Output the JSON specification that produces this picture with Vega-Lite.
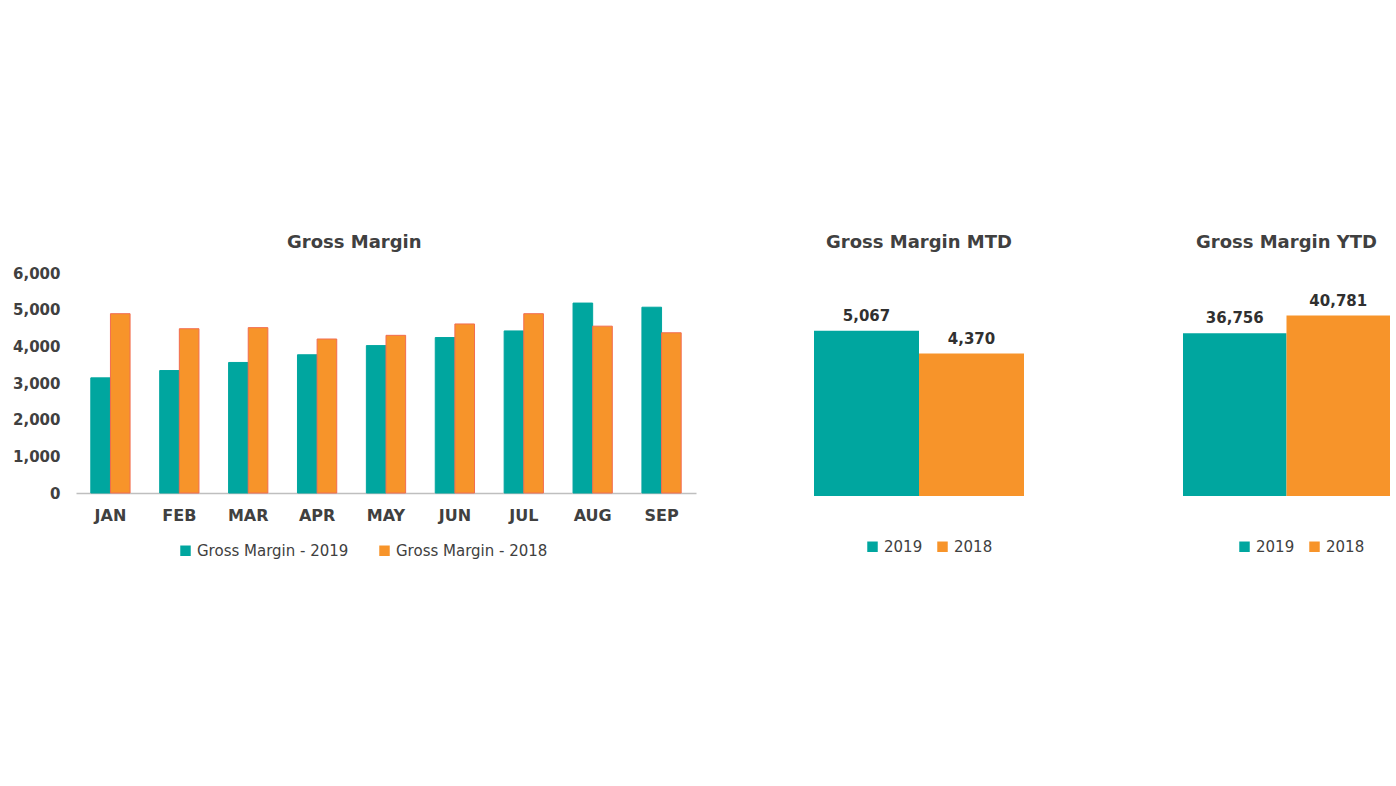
{
  "$schema": "https://vega.github.io/schema/vega-lite/v6.json",
  "background": "white",
  "padding": {"left": 12, "top": 234, "right": 0, "bottom": 0},
  "config": {
    "view": {"stroke": null},
    "font": "DejaVu Sans",
    "title": {"fontSize": 18, "fontWeight": "bold", "color": "#404040", "anchor": "middle"},
    "legend": {"title": null, "labelFontSize": 15, "labelColor": "#404040", "symbolType": "square", "symbolSize": 110, "labelOffset": 4, "direction": "horizontal", "symbolStrokeWidth": 1}
  },
  "datasets": {
    "monthly": [
      {"month": "JAN", "series": "Gross Margin - 2019", "value": 3140},
      {"month": "JAN", "series": "Gross Margin - 2018", "value": 4890},
      {"month": "FEB", "series": "Gross Margin - 2019", "value": 3340},
      {"month": "FEB", "series": "Gross Margin - 2018", "value": 4480},
      {"month": "MAR", "series": "Gross Margin - 2019", "value": 3560},
      {"month": "MAR", "series": "Gross Margin - 2018", "value": 4510},
      {"month": "APR", "series": "Gross Margin - 2019", "value": 3770},
      {"month": "APR", "series": "Gross Margin - 2018", "value": 4200},
      {"month": "MAY", "series": "Gross Margin - 2019", "value": 4020},
      {"month": "MAY", "series": "Gross Margin - 2018", "value": 4300},
      {"month": "JUN", "series": "Gross Margin - 2019", "value": 4240},
      {"month": "JUN", "series": "Gross Margin - 2018", "value": 4610},
      {"month": "JUL", "series": "Gross Margin - 2019", "value": 4420},
      {"month": "JUL", "series": "Gross Margin - 2018", "value": 4890},
      {"month": "AUG", "series": "Gross Margin - 2019", "value": 5180},
      {"month": "AUG", "series": "Gross Margin - 2018", "value": 4550},
      {"month": "SEP", "series": "Gross Margin - 2019", "value": 5067},
      {"month": "SEP", "series": "Gross Margin - 2018", "value": 4370}
    ],
    "mtd": [
      {"mtdYear": "2019", "mtdValue": 5067},
      {"mtdYear": "2018", "mtdValue": 4370}
    ],
    "ytd": [
      {"ytdYear": "2019", "ytdValue": 36756},
      {"ytdYear": "2018", "ytdValue": 40781}
    ]
  },
  "resolve": {"scale": {"color": "independent", "stroke": "independent", "y": "independent", "x": "independent"}, "legend": {"color": "independent"}},
  "spacing": 118,
  "hconcat": [
    {
      "title": {"text": "Gross Margin", "offset": 14, "frame": "bounds"},
      "width": 620,
      "height": 220,
      "data": {"name": "monthly"},
      "mark": {"type": "bar", "strokeWidth": 1},
      "encoding": {
        "x": {
          "field": "month", "type": "nominal",
          "sort": ["JAN", "FEB", "MAR", "APR", "MAY", "JUN", "JUL", "AUG", "SEP"],
          "scale": {"paddingInner": 0.43, "paddingOuter": 0.215},
          "axis": {"title": null, "labelAngle": 0, "ticks": false, "tickSize": 0, "labelFontSize": 16, "labelFontWeight": "bold", "labelColor": "#404040", "labelPadding": 14, "domainColor": "#bfbfbf", "domainWidth": 1.5}
        },
        "xOffset": {
          "field": "series", "type": "nominal",
          "sort": ["Gross Margin - 2019", "Gross Margin - 2018"],
          "scale": {"paddingInner": 0, "paddingOuter": 0}
        },
        "y": {
          "field": "value", "type": "quantitative",
          "scale": {"domain": [0, 6000]},
          "axis": {"title": null, "values": [0, 1000, 2000, 3000, 4000, 5000, 6000], "format": ",.0f", "grid": false, "domain": false, "ticks": false, "tickSize": 0, "labelFontSize": 15, "labelFontWeight": "bold", "labelColor": "#404040", "labelPadding": 16}
        },
        "color": {
          "field": "series", "type": "nominal",
          "sort": ["Gross Margin - 2019", "Gross Margin - 2018"],
          "scale": {"range": ["#00a69f", "#f7942a"]},
          "legend": {"orient": "none", "legendX": 102, "legendY": 270, "columnPadding": 28}
        },
        "stroke": {
          "field": "series", "type": "nominal",
          "sort": ["Gross Margin - 2019", "Gross Margin - 2018"],
          "scale": {"range": ["#00a69f", "#f26c50"]},
          "legend": null
        }
      }
    },
    {
      "spacing": 159,
      "resolve": {"scale": {"color": "independent", "y": "independent", "x": "independent"}, "legend": {"color": "independent"}},
      "hconcat": [
        {
          "title": {"text": "Gross Margin MTD", "offset": 21},
          "width": 210,
          "height": 223,
          "data": {"name": "mtd"},
          "encoding": {
            "x": {"field": "mtdYear", "type": "nominal", "sort": ["2019", "2018"], "scale": {"paddingInner": 0, "paddingOuter": 0}, "axis": null},
            "y": {"field": "mtdValue", "type": "quantitative", "scale": {"domain": [0, 6840]}, "axis": null}
          },
          "layer": [
            {
              "mark": {"type": "bar"},
              "encoding": {
                "color": {"field": "mtdYear", "type": "nominal", "sort": ["2019", "2018"], "scale": {"range": ["#00a69f", "#f7942a"]}, "legend": {"orient": "none", "legendX": 51, "legendY": 266, "columnPadding": 12}}
              }
            },
            {
              "mark": {"type": "text", "baseline": "alphabetic", "dy": -10, "fontSize": 15, "fontWeight": "bold", "color": "#303030"},
              "encoding": {"text": {"field": "mtdValue", "type": "quantitative", "format": ","}}
            }
          ]
        },
        {
          "title": {"text": "Gross Margin YTD", "offset": 21},
          "width": 207,
          "height": 223,
          "data": {"name": "ytd"},
          "encoding": {
            "x": {"field": "ytdYear", "type": "nominal", "sort": ["2019", "2018"], "scale": {"paddingInner": 0, "paddingOuter": 0}, "axis": null},
            "y": {"field": "ytdValue", "type": "quantitative", "scale": {"domain": [0, 50400]}, "axis": null}
          },
          "layer": [
            {
              "mark": {"type": "bar"},
              "encoding": {
                "color": {"field": "ytdYear", "type": "nominal", "sort": ["2019", "2018"], "scale": {"range": ["#00a69f", "#f7942a"]}, "legend": {"orient": "none", "legendX": 54, "legendY": 266, "columnPadding": 12}}
              }
            },
            {
              "mark": {"type": "text", "baseline": "alphabetic", "dy": -10, "fontSize": 15, "fontWeight": "bold", "color": "#303030"},
              "encoding": {"text": {"field": "ytdValue", "type": "quantitative", "format": ","}}
            }
          ]
        }
      ]
    }
  ]
}
